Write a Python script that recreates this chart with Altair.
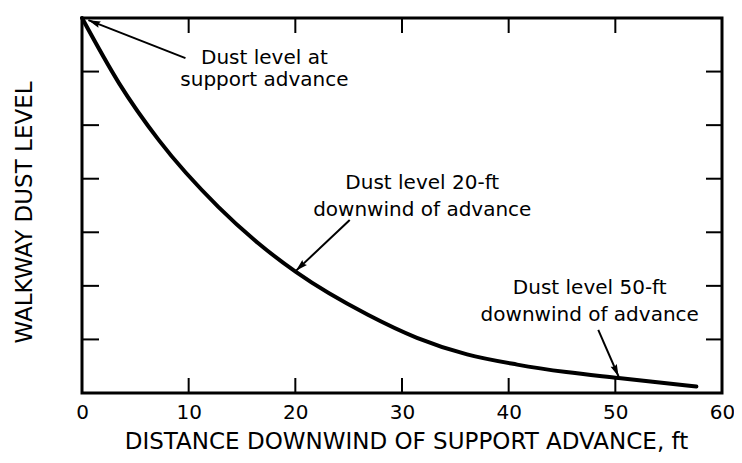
import math
import altair as alt
import pandas as pd

# Curve
dist = [0, 3.45, 7.2, 12.8, 16.5, 20.05, 26.8, 31.4, 36.1, 40.8, 45.4, 50.3, 57.6]
dust = [7.0, 5.79, 4.72, 3.47, 2.80, 2.26, 1.46, 1.03, 0.72, 0.53, 0.39, 0.28, 0.12]

x_tick_values = [0, 10, 20, 30, 40, 50, 60]
inner_x_ticks = [10, 20, 30, 40, 50]
inner_y_ticks = [1, 2, 3, 4, 5, 6]

note_text = ["Dust level at", "support advance",
             "Dust level 20-ft", "downwind of advance",
             "Dust level 50-ft", "downwind of advance"]
note_x = [17.1, 17.1, 31.9, 31.9, 47.6, 47.6]
note_y = [6.25, 5.84, 3.92, 3.42, 1.96, 1.46]

arrow_tail_x = [9.7, 25.1, 48.4]
arrow_tail_y = [6.25, 3.23, 1.18]
arrow_head_x = [0.6, 20.05, 50.3]
arrow_head_y = [6.96, 2.28, 0.31]

W, H = 640, 375
XMAX, YMAX = 60, 7
FONT = "DejaVu Sans"

sx, sy = W / XMAX, H / YMAX
angles = []
for tx, ty, hx, hy in zip(arrow_tail_x, arrow_tail_y, arrow_head_x, arrow_head_y):
    dx = (hx - tx) * sx
    dy = -(hy - ty) * sy
    angles.append(math.degrees(math.atan2(dx, -dy)) % 360)

curve_df = pd.DataFrame({"d": dist, "v": dust})
notes_df = pd.DataFrame({"t": note_text, "x": note_x, "y": note_y})
arrows_df = pd.DataFrame({"tx": arrow_tail_x, "ty": arrow_tail_y,
                          "hx": arrow_head_x, "hy": arrow_head_y, "ang": angles})
xt_df = pd.DataFrame({"x": inner_x_ticks})
yt_df = pd.DataFrame({"y": inner_y_ticks})

xscale = alt.Scale(domain=[0, XMAX], nice=False, zero=False)
yscale = alt.Scale(domain=[0, YMAX], nice=False, zero=False)

x_axis = alt.Axis(values=x_tick_values, format="d", labelFont=FONT, labelFontSize=20,
                  labelColor="black", labelFlush=False, labelOverlap=False,
                  labelPadding=9, tickSize=0, ticks=False, domain=False, grid=False,
                  title="DISTANCE DOWNWIND OF SUPPORT ADVANCE, ft",
                  titleFont=FONT, titleFontSize=23, titleFontWeight="normal",
                  titleColor="black", titleX=324, titleY=48,
                  titleBaseline="middle", titleAlign="center")
y_axis = alt.Axis(labels=False, ticks=False, domain=False, grid=False,
                  title="WALKWAY DUST LEVEL", titleFont=FONT, titleFontSize=23,
                  titleFontWeight="normal", titleColor="black",
                  titleAngle=270, titleX=-58, titleY=194,
                  titleBaseline="middle", titleAlign="center")

curve = alt.Chart(curve_df).mark_line(color="black", strokeWidth=4,
                                      interpolate="monotone", strokeCap="round").encode(
    x=alt.X("d:Q", scale=xscale, axis=x_axis),
    y=alt.Y("v:Q", scale=yscale, axis=y_axis),
)

bottom_ticks = alt.Chart(xt_df).mark_rule(color="black", strokeWidth=2).encode(
    x=alt.X("x:Q", scale=xscale), y=alt.value(H), y2=alt.value(H - 15))
top_ticks = alt.Chart(xt_df).mark_rule(color="black", strokeWidth=2).encode(
    x=alt.X("x:Q", scale=xscale), y=alt.value(0), y2=alt.value(15))
left_ticks = alt.Chart(yt_df).mark_rule(color="black", strokeWidth=2).encode(
    y=alt.Y("y:Q", scale=yscale), x=alt.value(0), x2=alt.value(17))
right_ticks = alt.Chart(yt_df).mark_rule(color="black", strokeWidth=2).encode(
    y=alt.Y("y:Q", scale=yscale), x=alt.value(W), x2=alt.value(W - 16))

arrow_lines = alt.Chart(arrows_df).mark_rule(color="black", strokeWidth=2).encode(
    x=alt.X("tx:Q", scale=xscale), y=alt.Y("ty:Q", scale=yscale),
    x2="hx:Q", y2="hy:Q")
arrow_heads = alt.Chart(arrows_df).mark_point(
    shape="M0,0L-0.42,1.5L0,1.3L0.42,1.5Z", filled=True, color="black",
    opacity=1, size=260).encode(
    x=alt.X("hx:Q", scale=xscale), y=alt.Y("hy:Q", scale=yscale),
    angle=alt.Angle("ang:Q", scale=None))

notes = alt.Chart(notes_df).mark_text(font=FONT, fontSize=20, color="black",
                                      align="center", baseline="middle").encode(
    x=alt.X("x:Q", scale=xscale), y=alt.Y("y:Q", scale=yscale), text="t:N")

chart = alt.layer(curve, bottom_ticks, top_ticks, left_ticks, right_ticks,
                  arrow_lines, arrow_heads, notes).properties(
    width=W, height=H,
    padding={"left": 74, "top": 10, "right": 12, "bottom": 62},
    autosize=alt.AutoSizeParams(type="none"),
    background="white",
).configure_view(stroke="black", strokeWidth=3)

chart.save("out.html", embed_options={"renderer": "svg", "actions": False})
